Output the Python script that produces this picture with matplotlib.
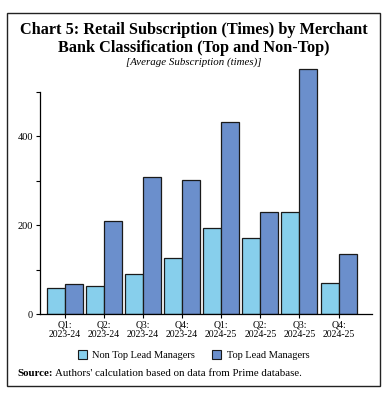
import numpy as np
import matplotlib
matplotlib.use('Agg')
from matplotlib import pyplot as plt
from matplotlib.patches import Rectangle, Patch

quarters = ['Q1:\n2023-24', 'Q2:\n2023-24', 'Q3:\n2023-24', 'Q4:\n2023-24',
            'Q1:\n2024-25', 'Q2:\n2024-25', 'Q3:\n2024-25', 'Q4:\n2024-25']
non_top = [58, 62, 91, 127, 193, 170, 229, 70]
top = [67, 210, 309, 301, 431, 229, 551, 135]

plt.rcParams['font.family'] = ['Liberation Serif', 'DejaVu Serif']

fig = plt.figure(figsize=(3.87, 3.93), dpi=100)
ax = fig.add_axes([0.103, 0.201, 0.858, 0.634])

x = np.arange(len(quarters))
w = 0.46
ax.bar(x - w / 2, non_top, w, color='#87cfec', edgecolor='#1a1a1a', linewidth=0.9,
       label='Non Top Lead Managers')
ax.bar(x + w / 2, top, w, color='#6b8fcc', edgecolor='#1a1a1a', linewidth=0.9,
       label='Top Lead Managers')

ax.set_xlim(-0.63, 7.85)
ax.set_ylim(0, 560)
ax.set_xticks(x)
ax.set_xticklabels(quarters, fontsize=7, linespacing=1.0)
ax.set_yticks([0, 200, 400])
ax.set_yticks([100, 300, 500], minor=True)
ax.tick_params(axis='y', labelsize=7.5, length=3, width=0.8, pad=2)
ax.tick_params(axis='y', which='minor', length=3, width=0.8)
ax.tick_params(axis='x', length=3, width=0.8, pad=2)
for s in ['top', 'right']:
    ax.spines[s].set_visible(False)
ax.spines['left'].set_bounds(0, 500)
ax.spines['left'].set_linewidth(0.9)
ax.spines['bottom'].set_linewidth(0.9)

fig.text(0.5, 0.943, 'Chart 5: Retail Subscription (Times) by Merchant\nBank Classification (Top and Non-Top)',
         ha='center', va='top', fontsize=11.7, fontweight='bold', linespacing=1.12)
fig.text(0.5, 0.843, '[Average Subscription (times)]', ha='center', va='center',
         fontsize=7.8, style='italic')

handles = [Patch(facecolor='#87cfec', edgecolor='#1a1a1a', linewidth=0.8),
           Patch(facecolor='#6b8fcc', edgecolor='#1a1a1a', linewidth=0.8)]
fig.legend(handles, ['Non Top Lead Managers', 'Top Lead Managers'], loc='center',
           bbox_to_anchor=(0.5, 0.097), ncol=2, frameon=False, fontsize=7.5,
           handlelength=0.9, handleheight=0.9, columnspacing=1.6, handletextpad=0.5)

fig.text(0.044, 0.05, 'Source:', fontsize=7.8, va='center', fontweight='bold')
fig.text(0.142, 0.05, "Authors' calculation based on data from Prime database.", fontsize=7.8, va='center')

fig.patches.append(Rectangle((0.018, 0.018), 0.965, 0.95, transform=fig.transFigure,
                             fill=False, edgecolor='#222222', linewidth=1.0))

fig.savefig('out.png', dpi=100)
